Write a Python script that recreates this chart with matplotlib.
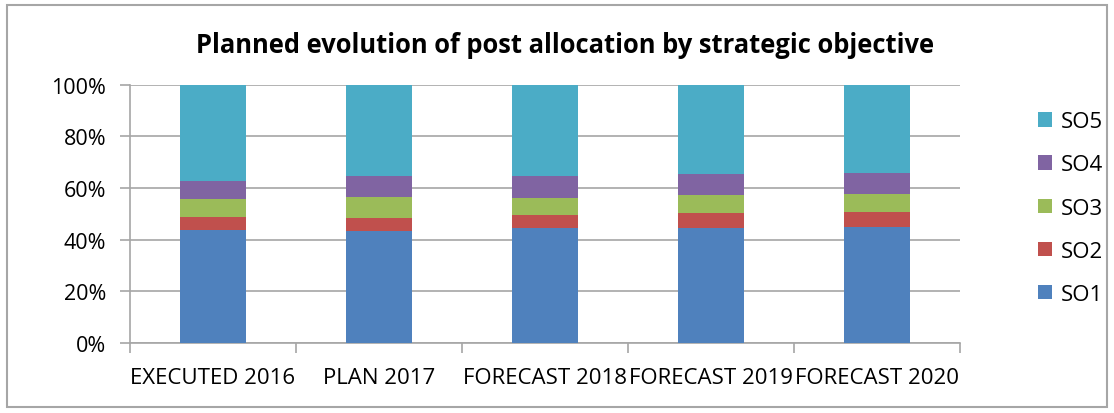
import matplotlib.pyplot as plt
from matplotlib.patches import Rectangle
from matplotlib.ticker import PercentFormatter

categories = ['EXECUTED 2016', 'PLAN 2017', 'FORECAST 2018', 'FORECAST 2019', 'FORECAST 2020']
so1 = [43.8, 43.5, 44.4, 44.4, 44.9]
so2 = [5.1, 5.0, 5.0, 6.0, 5.8]
so3 = [6.8, 8.1, 6.7, 6.8, 6.9]
so4 = [6.9, 7.9, 8.4, 8.1, 8.2]
so5 = [37.4, 35.5, 35.5, 34.7, 34.2]

series = [('SO1', so1, '#4f81bd'), ('SO2', so2, '#c0504d'), ('SO3', so3, '#9bbb59'),
          ('SO4', so4, '#8064a2'), ('SO5', so5, '#4bacc6')]

plt.rcParams['font.family'] = ['Open Sans', 'DejaVu Sans']

fig = plt.figure(figsize=(11.14, 4.14), dpi=100)
ax = fig.add_axes([0.1167, 0.169, 0.745, 0.624])

x = list(range(len(categories)))
bottom = [0.0] * len(categories)
handles = []
for name, vals, color in series:
    b = ax.bar(x, vals, bottom=bottom, width=0.4, color=color, label=name, zorder=3)
    handles.append(b)
    bottom = [bt + v for bt, v in zip(bottom, vals)]

ax.set_ylim(0, 100)
ax.set_xlim(-0.5, len(categories) - 0.5)
ax.yaxis.set_major_formatter(PercentFormatter(decimals=0))
ax.set_yticks([0, 20, 40, 60, 80, 100])
ax.grid(axis='y', color='#a6a6a6', linewidth=1.2, zorder=0)
for s in ['top', 'right']:
    ax.spines[s].set_visible(False)
for s in ['bottom', 'left']:
    ax.spines[s].set_color('#a6a6a6')
    ax.spines[s].set_linewidth(1.2)
ax.tick_params(axis='y', length=7, color='#a6a6a6', width=1.2, labelsize=15.5, pad=10)
ax.set_xticks(x)
ax.set_xticklabels(categories, fontsize=16)
ax.tick_params(axis='x', length=0, pad=17)
ax.set_xticks([i - 0.5 for i in range(len(categories) + 1)], minor=True)
ax.tick_params(axis='x', which='minor', length=7, color='#a6a6a6', width=1.2)

# title sits a bit right of the plot centre, like the original
fig.text(0.507, 0.89, 'Planned evolution of post allocation by strategic objective',
         ha='center', va='center', fontsize=18.4, fontweight='bold')

fig.legend(handles[::-1], [s[0] for s in series][::-1], loc='center left',
           bbox_to_anchor=(0.914, 0.495), frameon=False, fontsize=16,
           labelspacing=1.0, handlelength=0.62, handleheight=0.62, handletextpad=0.4)

fig.patches.append(Rectangle((0.006, 0.015), 0.988, 0.97, transform=fig.transFigure,
                             fill=False, edgecolor='#a6a6a6', linewidth=1.5))

fig.savefig('out.png', dpi=100)
